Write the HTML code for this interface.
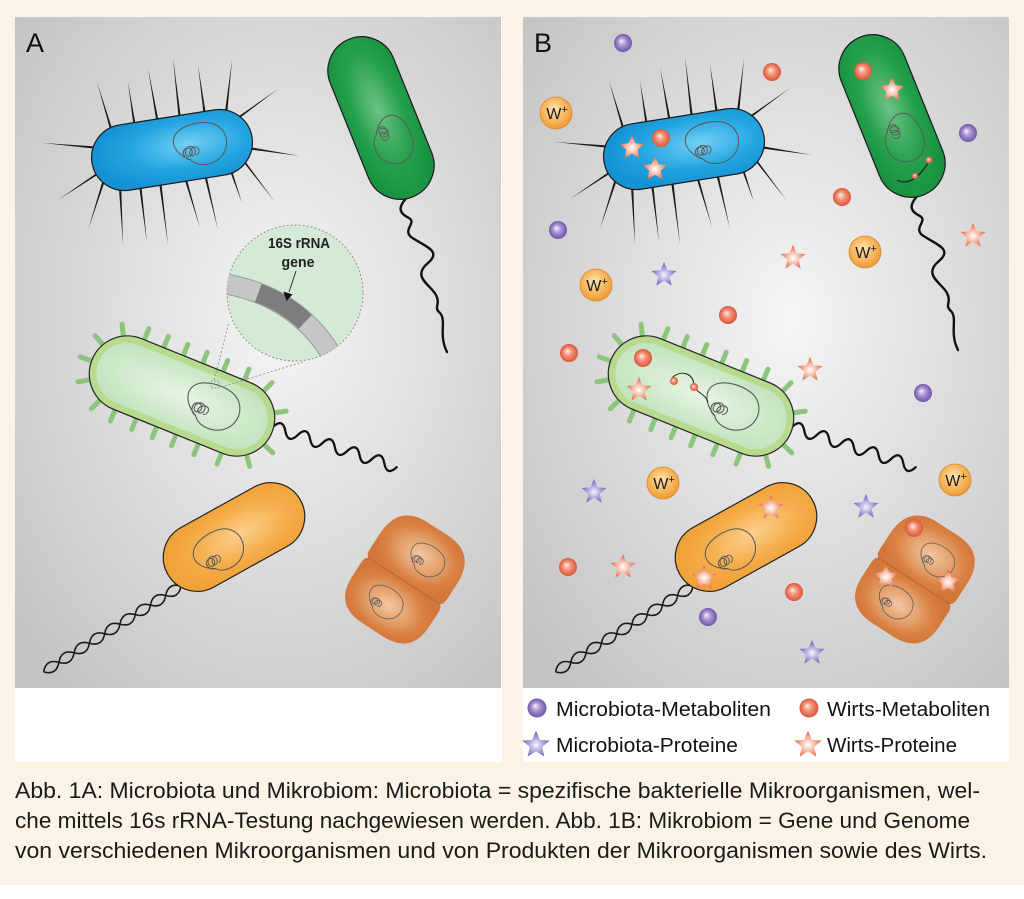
<!DOCTYPE html>
<html><head><meta charset="utf-8"><style>
html,body{margin:0;padding:0;background:#fff;}
svg{display:block;}
</style></head><body>
<svg width="1024" height="899" viewBox="0 0 1024 899" xmlns="http://www.w3.org/2000/svg" xmlns:xlink="http://www.w3.org/1999/xlink" font-family="'Liberation Sans', Arial, sans-serif">
<defs>
  <radialGradient id="gBg" cx="0.55" cy="0.45" r="0.72">
    <stop offset="0" stop-color="#f5f5f5"/><stop offset="1" stop-color="#c3c3c3"/>
  </radialGradient>
  <radialGradient id="gBlue" cx="0.6" cy="0.45" r="0.6">
    <stop offset="0" stop-color="#74cff4"/><stop offset="0.6" stop-color="#23a5e2"/><stop offset="1" stop-color="#1592d4"/>
  </radialGradient>
  <radialGradient id="gGreen" cx="0.45" cy="0.5" r="0.6">
    <stop offset="0" stop-color="#6cc285"/><stop offset="0.6" stop-color="#24a04b"/><stop offset="1" stop-color="#189040"/>
  </radialGradient>
  <radialGradient id="gLG" cx="0.5" cy="0.5" r="0.6">
    <stop offset="0" stop-color="#e6f4e4"/><stop offset="1" stop-color="#c2e3bd"/>
  </radialGradient>
  <radialGradient id="gOr" cx="0.55" cy="0.5" r="0.6">
    <stop offset="0" stop-color="#fbd08e"/><stop offset="0.6" stop-color="#f5ab48"/><stop offset="1" stop-color="#f0a035"/>
  </radialGradient>
  <radialGradient id="gBr" cx="0.5" cy="0.5" r="0.55">
    <stop offset="0" stop-color="#f3c6a2"/><stop offset="0.45" stop-color="#e4a06c"/><stop offset="0.75" stop-color="#d98244"/><stop offset="1" stop-color="#d3763a"/>
  </radialGradient>
  <radialGradient id="gSP" cx="0.5" cy="0.5" r="0.5" fx="0.4" fy="0.38">
    <stop offset="0" stop-color="#f6f2fb"/><stop offset="0.45" stop-color="#a894d4"/><stop offset="1" stop-color="#6e58a6"/>
  </radialGradient>
  <radialGradient id="gSR" cx="0.5" cy="0.5" r="0.5" fx="0.4" fy="0.38">
    <stop offset="0" stop-color="#fff0ea"/><stop offset="0.45" stop-color="#f29479"/><stop offset="1" stop-color="#db553b"/>
  </radialGradient>
  <radialGradient id="gStS" cx="0.5" cy="0.55" r="0.5">
    <stop offset="0" stop-color="#ffffff"/><stop offset="0.3" stop-color="#fcd6c8"/><stop offset="0.7" stop-color="#f09a80"/><stop offset="1" stop-color="#e06a50"/>
  </radialGradient>
  <radialGradient id="gStP" cx="0.5" cy="0.55" r="0.5">
    <stop offset="0" stop-color="#f6f4fc"/><stop offset="0.3" stop-color="#cfc6ec"/><stop offset="0.7" stop-color="#9a8cd0"/><stop offset="1" stop-color="#7464b8"/>
  </radialGradient>
  <radialGradient id="gW" cx="0.45" cy="0.4" r="0.6">
    <stop offset="0" stop-color="#fde6b8"/><stop offset="0.5" stop-color="#f8bd68"/><stop offset="1" stop-color="#ee9a35"/>
  </radialGradient>
  <clipPath id="mag"><circle cx="295" cy="293" r="68"/></clipPath>

  <polygon id="star" points="0,-13 3.5,-4.8 12.4,-4 5.6,1.8 7.6,10.5 0,5.8 -7.6,10.5 -5.6,1.8 -12.4,-4 -3.5,-4.8"/>
  <circle id="sph" r="9"/>

  <path id="chr" fill="none" stroke="#5a5a5a" stroke-width="0.9" d="M-20,-2 C-22,-15 -2,-20 12,-16 C25,-12 28,4 18,13 C10,20 -4,19 -8,12 c-6,-1 -7,-9 -2,-10 c5,-1 6,6 1,7 c-4,0 -3,-8 2,-8 c5,0 5,7 1,8 c-4,0 -2,-7 3,-7 c4,0 4,6 0,7 M-20,-2 C-19,4 -14,9 -8,12"/>

  <!-- Blue bacterium -->
  <g id="blueB">
    <g fill="#1a1a1a">
      <polygon points="110.8,132 113.2,132 97,82"/>
      <polygon points="133.8,128 136.2,128 128,82"/>
      <polygon points="156.8,124 159.2,124 148,68"/>
      <polygon points="178.8,120 181.2,120 173,58"/>
      <polygon points="203.8,116 206.2,116 198,65"/>
      <polygon points="224.8,113 227.2,113 232,60"/>
      <polygon points="238,116.8 238,119.2 278,89"/>
      <polygon points="100,146.8 100,149.2 43,143"/>
      <polygon points="100,170.8 100,173.2 58,200"/>
      <polygon points="248,146.8 248,149.2 300,156"/>
      <polygon points="102.8,180 105.2,180 88,230"/>
      <polygon points="118.8,186 121.2,186 123,245"/>
      <polygon points="138.8,184 141.2,184 147,243"/>
      <polygon points="158.8,181 161.2,181 168,245"/>
      <polygon points="183.8,177 186.2,177 200,228"/>
      <polygon points="203.8,174 206.2,174 218,230"/>
      <polygon points="228.8,168 231.2,168 242,203"/>
      <polygon points="241.8,160 244.2,160 275,202"/>
    </g>
    <rect x="-81" y="-33" width="162" height="66" rx="33" transform="translate(172,150) rotate(-9)" fill="url(#gBlue)" stroke="#1a1a1a" stroke-width="1.2"/>
    <use xlink:href="#chr" transform="translate(198,144) rotate(-9) scale(1.2)"/>
  </g>

  <!-- Dark green bacterium -->
  <g id="greenB">
    <path d="M410,194 C398,206 398,212 407,217 C419,222 402,229 411,237 C426,247 442,251 428,263 C411,277 431,285 436,295 C441,305 433,307 440,313 C447,321 438,334 447,352" fill="none" stroke="#111" stroke-width="2.4" stroke-linecap="round"/>
    <rect x="-85" y="-34" width="170" height="68" rx="34" transform="translate(381,118) rotate(68)" fill="url(#gGreen)" stroke="#1a1a1a" stroke-width="1.2"/>
    <use xlink:href="#chr" transform="translate(392,138) rotate(68) scale(1.1)"/>
  </g>

  <!-- Light green bacterium -->
  <g id="lgB">
    <g transform="translate(273,427) rotate(18)">
      <path d="M0,0 Q6.5,-12 13,0 T26,0 T39,0 T52,0 T65,0 T78,0 T91,0 T104,0 T117,0 T130,0" fill="none" stroke="#111" stroke-width="2.3" stroke-linecap="round"/>
    </g>
    <g transform="translate(182,396) rotate(22)">
      <g stroke="#8dc57c" stroke-width="5" stroke-linecap="round">
        <line x1="-56" y1="-34" x2="-56" y2="-50"/>
        <line x1="-35" y1="-34" x2="-35" y2="-50"/>
        <line x1="-14" y1="-34" x2="-14" y2="-50"/>
        <line x1="7" y1="-34" x2="7" y2="-50"/>
        <line x1="29" y1="-34" x2="29" y2="-50"/>
        <line x1="52" y1="-34" x2="52" y2="-50"/>
        <line x1="-57" y1="34" x2="-57" y2="50"/>
        <line x1="-34" y1="34" x2="-34" y2="50"/>
        <line x1="-12" y1="34" x2="-12" y2="50"/>
        <line x1="9" y1="34" x2="9" y2="50"/>
        <line x1="33" y1="34" x2="33" y2="50"/>
        <line x1="58" y1="34" x2="58" y2="50"/>
        <line x1="-25" y1="0" x2="-9" y2="0" transform="rotate(-118 -59 0)"/>
        <line x1="-25" y1="0" x2="-9" y2="0" transform="rotate(-152 -59 0)"/>
        <line x1="-25" y1="0" x2="-9" y2="0" transform="rotate(178 -59 0)"/>
        <line x1="-25" y1="0" x2="-9" y2="0" transform="rotate(149 -59 0)"/>
        <line x1="-25" y1="0" x2="-9" y2="0" transform="rotate(114 -59 0)"/>
        <line x1="93" y1="0" x2="109" y2="0" transform="rotate(-30 59 0)"/>
        <line x1="93" y1="0" x2="109" y2="0" transform="rotate(-67 59 0)"/>
        <line x1="93" y1="0" x2="109" y2="0" transform="rotate(22 59 0)"/>
        <line x1="93" y1="0" x2="109" y2="0" transform="rotate(53 59 0)"/>
      </g>
      <rect x="-97" y="-38" width="194" height="76" rx="38" fill="#b8da8e" stroke="#2a2a2a" stroke-width="1.3"/>
      <rect x="-90" y="-31" width="180" height="62" rx="31" fill="url(#gLG)"/>
      <use xlink:href="#chr" transform="translate(30,-2) scale(1.25)"/>
    </g>
  </g>

  <!-- Orange bacterium -->
  <g id="orB">
    <g transform="translate(181,586) rotate(148)" fill="none" stroke="#1a1a1a" stroke-width="1.6">
      <path d="M0,0 Q9,-10 18,0 T36,0 T54,0 T72,0 T90,0 T108,0 T126,0 T144,0 T162,0"/>
      <path d="M0,0 Q9,10 18,0 T36,0 T54,0 T72,0 T90,0 T108,0 T126,0 T144,0 T162,0"/>
    </g>
    <rect x="-76" y="-34" width="152" height="68" rx="34" transform="translate(234,537) rotate(-29)" fill="url(#gOr)" stroke="#222" stroke-width="1.2"/>
    <use xlink:href="#chr" transform="translate(217,552) rotate(-29) scale(1.15)"/>
  </g>

  <!-- Diplococcus -->
  <g id="dipB">
    <g transform="translate(404,581) rotate(33)">
      <path d="M-46,-8 L-46,-26 Q-46,-62 -12,-62 L12,-62 Q46,-62 46,-26 L46,-8 Q46,1 38,1 L-38,1 Q-46,1 -46,-8 Z" fill="url(#gBr)"/>
      <path d="M-46,7 L-46,24 Q-46,58 -12,58 L12,58 Q46,58 46,24 L46,7 Q46,-1 38,-1 L-38,-1 Q-46,-1 -46,7 Z" fill="url(#gBr)"/>
      <line x1="-43" y1="0" x2="43" y2="0" stroke="#c0672e" stroke-width="1.2"/>
      <use xlink:href="#chr" transform="translate(6,-30) scale(0.85)"/>
      <use xlink:href="#chr" transform="translate(-6,28) scale(0.85)"/>
    </g>
  </g>
</defs>

<!-- page background -->
<rect x="0" y="0" width="1024" height="885" fill="#fcf3e7"/>

<!-- Panel A -->
<rect x="15" y="17" width="487" height="745" fill="#ffffff"/>
<rect x="15" y="17" width="486" height="671" fill="url(#gBg)"/>
<!-- Panel B -->
<rect x="523" y="17" width="486" height="745" fill="#ffffff"/>
<rect x="523" y="17" width="486" height="671" fill="url(#gBg)"/>

<text x="26" y="52" font-size="27" fill="#111">A</text>
<text x="534" y="52" font-size="27" fill="#111">B</text>

<!-- Panel A bacteria -->
<use xlink:href="#blueB"/>
<use xlink:href="#greenB"/>
<use xlink:href="#lgB"/>
<use xlink:href="#orB"/>
<use xlink:href="#dipB"/>

<!-- magnifier -->
<rect x="211" y="381" width="8" height="7" fill="none" stroke="#777" stroke-width="0.7" stroke-dasharray="1.5,1.5"/>
<line x1="214" y1="380" x2="229" y2="322" stroke="#888" stroke-width="0.8" stroke-dasharray="2,2"/>
<line x1="221" y1="387" x2="303" y2="362" stroke="#888" stroke-width="0.8" stroke-dasharray="2,2"/>
<circle cx="295" cy="293" r="68" fill="#d5ead6" stroke="#8a8a8a" stroke-width="0.9" stroke-dasharray="2,2"/>
<g clip-path="url(#mag)" fill="none">
  <path d="M220,283 Q300,295 337,364" stroke="#9a9a9a" stroke-width="21"/>
  <path d="M220,283 Q300,295 337,364" stroke="#c6c6c6" stroke-width="19"/>
  <path d="M258.3,293 Q285.2,303 305.2,321.9" stroke="#7d7d7d" stroke-width="19"/>
</g>
<line x1="296" y1="271" x2="289" y2="292" stroke="#222" stroke-width="0.9"/>
<polygon points="283.5,291.5 292.5,294.5 286.5,301" fill="#111"/>
<text x="299" y="248" font-size="15" font-weight="bold" fill="#222" text-anchor="middle" textLength="62" lengthAdjust="spacingAndGlyphs">16S rRNA</text>
<text x="298" y="267" font-size="15" font-weight="bold" fill="#222" text-anchor="middle" textLength="33" lengthAdjust="spacingAndGlyphs">gene</text>

<!-- Panel B bacteria -->
<use xlink:href="#blueB" transform="translate(512,-1)"/>
<use xlink:href="#greenB" transform="translate(511,-2)"/>
<use xlink:href="#lgB" transform="translate(519,0)"/>
<use xlink:href="#orB" transform="translate(512,0)"/>
<use xlink:href="#dipB" transform="translate(510,0)"/>

<!-- inner details B -->
<path d="M897,180 Q912,188 928,163" fill="none" stroke="#222" stroke-width="1.2"/>
<circle cx="929" cy="160" r="3.5" fill="url(#gSR)"/>
<circle cx="915" cy="176" r="3" fill="url(#gSR)"/>
<path d="M672,378 C680,370 692,372 694,384 C696,394 704,392 708,402" fill="none" stroke="#222" stroke-width="1"/>
<circle cx="674" cy="381" r="4" fill="url(#gSR)"/>
<circle cx="694" cy="387" r="4" fill="url(#gSR)"/>

<!-- purple spheres -->
<g fill="url(#gSP)">
  <use xlink:href="#sph" x="623" y="43"/>
  <use xlink:href="#sph" x="968" y="133"/>
  <use xlink:href="#sph" x="558" y="230"/>
  <use xlink:href="#sph" x="923" y="393"/>
  <use xlink:href="#sph" x="708" y="617"/>
</g>
<!-- red spheres -->
<g fill="url(#gSR)">
  <use xlink:href="#sph" x="772" y="72"/>
  <use xlink:href="#sph" x="863" y="71"/>
  <use xlink:href="#sph" x="661" y="138"/>
  <use xlink:href="#sph" x="842" y="197"/>
  <use xlink:href="#sph" x="728" y="315"/>
  <use xlink:href="#sph" x="569" y="353"/>
  <use xlink:href="#sph" x="643" y="358"/>
  <use xlink:href="#sph" x="914" y="528"/>
  <use xlink:href="#sph" x="568" y="567"/>
  <use xlink:href="#sph" x="794" y="592"/>
</g>
<!-- salmon stars -->
<g fill="url(#gStS)">
  <use xlink:href="#star" transform="translate(892,90)"/>
  <use xlink:href="#star" transform="translate(632,148)"/>
  <use xlink:href="#star" transform="translate(655,169)"/>
  <use xlink:href="#star" transform="translate(793,258)"/>
  <use xlink:href="#star" transform="translate(973,236)"/>
  <use xlink:href="#star" transform="translate(810,370)"/>
  <use xlink:href="#star" transform="translate(639,390)"/>
  <use xlink:href="#star" transform="translate(771,508)"/>
  <use xlink:href="#star" transform="translate(704,578)"/>
  <use xlink:href="#star" transform="translate(623,567)"/>
  <use xlink:href="#star" transform="translate(886,577)"/>
  <use xlink:href="#star" transform="translate(948,582)"/>
</g>
<!-- purple stars -->
<g fill="url(#gStP)">
  <use xlink:href="#star" transform="translate(664,275)"/>
  <use xlink:href="#star" transform="translate(594,492)"/>
  <use xlink:href="#star" transform="translate(866,507)"/>
  <use xlink:href="#star" transform="translate(812,653)"/>
</g>
<!-- W+ badges -->
<g font-size="16" fill="#1a1a1a" text-anchor="middle">
  <circle cx="556" cy="113" r="16" fill="url(#gW)" stroke="#d98a30" stroke-width="0.8"/>
  <text x="557" y="119">W<tspan font-size="11" dy="-6">+</tspan></text>
  <circle cx="865" cy="252" r="16" fill="url(#gW)" stroke="#d98a30" stroke-width="0.8"/>
  <text x="866" y="258">W<tspan font-size="11" dy="-6">+</tspan></text>
  <circle cx="596" cy="285" r="16" fill="url(#gW)" stroke="#d98a30" stroke-width="0.8"/>
  <text x="597" y="291">W<tspan font-size="11" dy="-6">+</tspan></text>
  <circle cx="663" cy="483" r="16" fill="url(#gW)" stroke="#d98a30" stroke-width="0.8"/>
  <text x="664" y="489">W<tspan font-size="11" dy="-6">+</tspan></text>
  <circle cx="955" cy="480" r="16" fill="url(#gW)" stroke="#d98a30" stroke-width="0.8"/>
  <text x="956" y="486">W<tspan font-size="11" dy="-6">+</tspan></text>
</g>

<!-- Legend -->
<circle cx="537" cy="708" r="9.5" fill="url(#gSP)"/>
<circle cx="809" cy="708" r="9.5" fill="url(#gSR)"/>
<use xlink:href="#star" transform="translate(536,745) scale(1.1)" fill="url(#gStP)"/>
<use xlink:href="#star" transform="translate(808,745) scale(1.1)" fill="url(#gStS)"/>
<g font-size="20" fill="#111">
  <text x="556" y="716" textLength="215" lengthAdjust="spacingAndGlyphs">Microbiota-Metaboliten</text>
  <text x="827" y="716" textLength="163" lengthAdjust="spacingAndGlyphs">Wirts-Metaboliten</text>
  <text x="556" y="752" textLength="182" lengthAdjust="spacingAndGlyphs">Microbiota-Proteine</text>
  <text x="827" y="752" textLength="130" lengthAdjust="spacingAndGlyphs">Wirts-Proteine</text>
</g>

<!-- Caption -->
<g font-size="22" fill="#1a1a1a">
  <text x="15" y="798" textLength="965" lengthAdjust="spacingAndGlyphs">Abb. 1A: Microbiota und Mikrobiom: Microbiota = spezifische bakterielle Mikroorganismen, wel-</text>
  <text x="15" y="828" textLength="955" lengthAdjust="spacingAndGlyphs">che mittels 16s rRNA-Testung nachgewiesen werden. Abb. 1B: Mikrobiom = Gene und Genome</text>
  <text x="15" y="858" textLength="972" lengthAdjust="spacingAndGlyphs">von verschiedenen Mikroorganismen und von Produkten der Mikroorganismen sowie des Wirts.</text>
</g>
</svg>
</body></html>
